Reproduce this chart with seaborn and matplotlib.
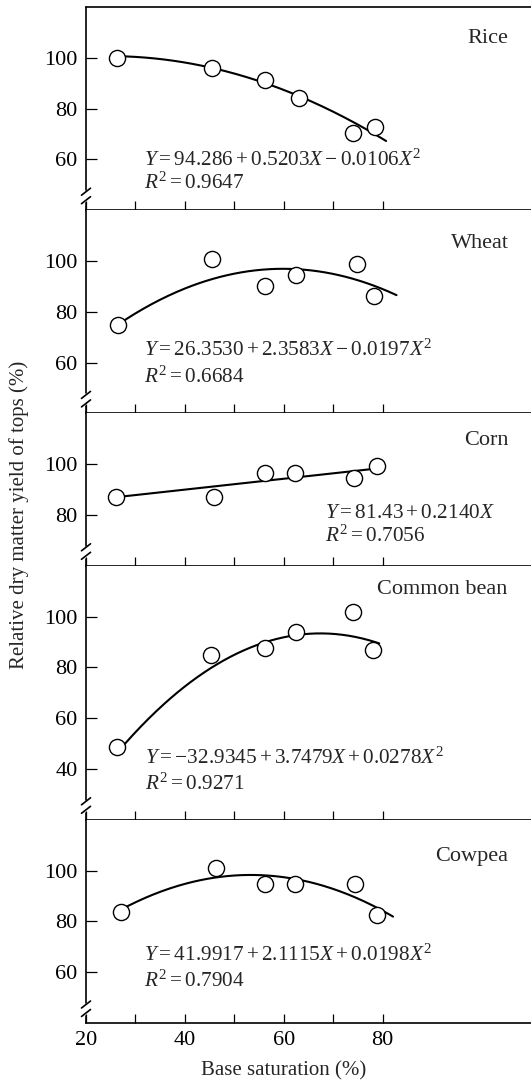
import numpy as np
import pandas as pd
import matplotlib
matplotlib.use("Agg")
import matplotlib.pyplot as plt
import seaborn as sns
from matplotlib.lines import Line2D

# ---- data -------------------------------------------------------------
crops = ["Rice", "Wheat", "Corn", "Common bean", "Cowpea"]

rice_x = [26.3, 45.5, 56.3, 63.0, 74.0, 78.4]
rice_y = [100.0, 96.0, 91.4, 84.2, 70.3, 72.9]
wheat_x = [26.5, 45.4, 56.2, 62.4, 74.8, 78.2]
wheat_y = [74.8, 100.8, 90.1, 94.4, 99.0, 86.2]
corn_x = [26.0, 45.9, 56.3, 62.2, 74.3, 78.8]
corn_y = [87.2, 87.2, 96.6, 96.6, 94.4, 99.1]
bean_x = [26.2, 45.3, 56.3, 62.4, 74.1, 78.0]
bean_y = [48.6, 85.0, 87.6, 93.8, 101.7, 86.8]
cowpea_x = [27.0, 46.2, 56.2, 62.2, 74.5, 78.8]
cowpea_y = [83.6, 100.9, 94.6, 94.6, 94.6, 82.4]

# regression coefficients: intercept, linear, quadratic
rice_coef = [94.286, 0.5203, -0.0106]
wheat_coef = [26.3530, 2.3583, -0.0197]
corn_coef = [81.43, 0.2140, 0.0]
bean_coef = [-32.9345, 3.7479, -0.0278]
cowpea_coef = [41.9917, 2.1115, -0.0198]

# x range over which each fitted curve is drawn
fit_span = [(26.3, 80.7), (26.5, 82.8), (26.0, 78.8), (26.2, 79.3), (27.0, 82.1)]

equations = [
    r"$Y = 94.286 + 0.5203X - 0.0106X^2$",
    r"$Y = 26.3530 + 2.3583X - 0.0197X^2$",
    r"$Y = 81.43 + 0.2140X$",
    r"$Y = -32.9345 + 3.7479X + 0.0278X^2$",
    r"$Y = 41.9917 + 2.1115X + 0.0198X^2$",
]
r_squared = ["0.9647", "0.6684", "0.7056", "0.9271", "0.7904"]

y_limits = [(40, 120), (40, 120), (60, 120), (20, 120), (40, 120)]
y_ticks = [[60, 80, 100], [60, 80, 100], [80, 100], [40, 60, 80, 100], [60, 80, 100]]
x_ticks = [20, 30, 40, 50, 60, 70, 80]
x_ticklabels = ["20", "", "40", "", "60", "", "80"]

points = [(rice_x, rice_y), (wheat_x, wheat_y), (corn_x, corn_y),
          (bean_x, bean_y), (cowpea_x, cowpea_y)]
coefs = [rice_coef, wheat_coef, corn_coef, bean_coef, cowpea_coef]

# annotation placement (data coordinates)
name_pos = [(105.5, 105.7), (105.5, 105.0), (105.5, 107.6), (105.3, 109.0), (105.3, 103.6)]
eq_pos = [(31.7, 57.4, 48.5), (31.7, 62.5, 52.2), (68.3, 78.7, 69.3),
          (31.9, 42.0, 31.8), (31.7, 64.6, 54.3)]

# ---- style ------------------------------------------------------------
sns.set_theme(style="ticks")
plt.rcParams["font.family"] = ["Liberation Serif", "DejaVu Serif"]
plt.rcParams["mathtext.fontset"] = "custom"
plt.rcParams["mathtext.rm"] = "Liberation Serif"
plt.rcParams["mathtext.it"] = "Liberation Serif:italic"
plt.rcParams["mathtext.bf"] = "Liberation Serif:bold"
plt.rcParams["axes.edgecolor"] = "black"
plt.rcParams["axes.linewidth"] = 1.2

FS = 15
FS_TICK = 16
FS_EQ = 15.3
W, H = 531, 1081
fig = plt.figure(figsize=(W / 100, H / 100), dpi=100)
fig.patch.set_facecolor("white")

ratios = [lim[1] - lim[0] for lim in y_limits]
gs = fig.add_gridspec(5, 1, height_ratios=ratios, hspace=0,
                      left=86 / W, right=1.0, top=1 - 7 / H, bottom=1 - 1023 / H)

ax_w_px = W - 86
total_h_px = 1023 - 7

for i, name in enumerate(crops):
    ax = fig.add_subplot(gs[i])
    ax.set_facecolor("white")
    px, py = points[i]
    c0, c1, c2 = coefs[i]
    xs = np.linspace(fit_span[i][0], fit_span[i][1], 200)
    ys = c0 + c1 * xs + c2 * xs ** 2

    sns.lineplot(x=xs, y=ys, ax=ax, color="black", linewidth=1.5, zorder=2)
    sns.scatterplot(x=px, y=py, ax=ax, s=135, color="white", edgecolor="black",
                    linewidth=1.0, zorder=3)

    ax.set_xlim(20, 110)
    ax.set_ylim(*y_limits[i])
    ax.set_xticks(x_ticks)
    ax.set_yticks(y_ticks[i])
    ax.set_yticklabels([str(t) for t in y_ticks[i]])
    if i == len(crops) - 1:
        ax.set_xticklabels(x_ticklabels)
    else:
        ax.set_xticklabels([])
    ax.tick_params(axis="x", direction="in", length=6.5, width=0.9, pad=6,
                   labelsize=FS_TICK, colors="black")
    ax.tick_params(axis="y", direction="in", length=7.7, width=0.9, pad=6,
                   labelsize=FS_TICK, colors="black")
    ax.set_xlabel("")
    ax.set_ylabel("")

    ax.spines["right"].set_visible(False)
    ax.spines["top"].set_visible(i == 0)
    ax.spines["left"].set_visible(False)

    # broken left axis: upper part, two slashes, short lower stub
    h_px = total_h_px * ratios[i] / sum(ratios)
    fy = lambda p: p / h_px
    fx = lambda p: p / ax_w_px
    lw = 1.2
    ax.add_line(Line2D([0, 0], [fy(20), 1], transform=ax.transAxes,
                       color="black", lw=lw, clip_on=False))
    ax.add_line(Line2D([0, 0], [0, fy(7)], transform=ax.transAxes,
                       color="black", lw=lw, clip_on=False))
    for cy in (18.5, 10):
        ax.add_line(Line2D([fx(-4.5), fx(4.5)], [fy(cy - 3.5), fy(cy + 3.5)],
                           transform=ax.transAxes, color="black", lw=lw,
                           clip_on=False))

    ax.text(name_pos[i][0], name_pos[i][1], name, ha="right", va="baseline",
            fontsize=FS_TICK)
    ex, ey1, ey2 = eq_pos[i]
    ax.text(ex, ey1, equations[i], ha="left", va="baseline", fontsize=FS_EQ)
    ax.text(ex, ey2, r"$R^2 = " + r_squared[i] + "$", ha="left", va="baseline",
            fontsize=FS_EQ)

fig.text(19 / W, 1 - 515 / H, "Relative dry matter yield of tops (%)",
         rotation=90, ha="center", va="center", fontsize=FS)
fig.text(284 / W, 1 - 1075 / H, "Base saturation (%)", ha="center",
         va="baseline", fontsize=FS)

fig.savefig("out.png", dpi=100, facecolor="white")
